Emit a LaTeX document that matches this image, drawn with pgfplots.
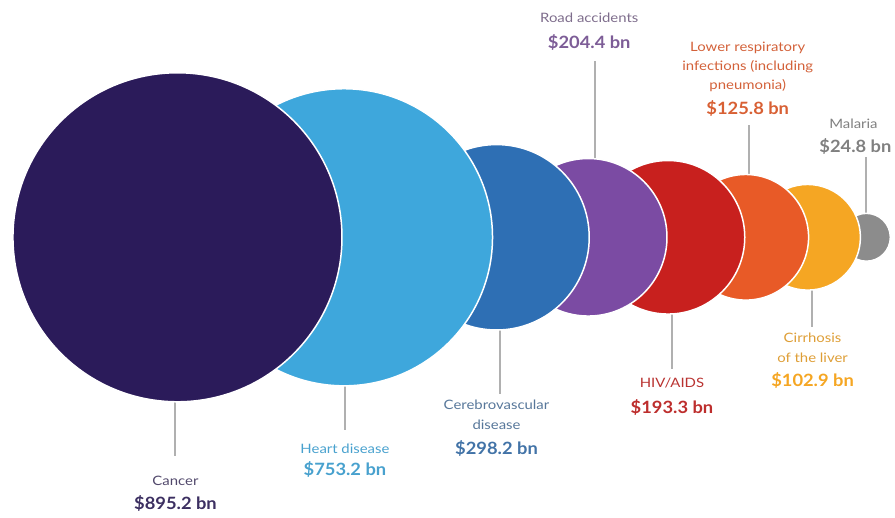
\documentclass[border=0pt]{standalone}
\usepackage{pgfplots}
\pgfplotsset{compat=1.18}
\usepackage{fontspec}
\setmainfont{Lato}
\definecolor{cCancer}{HTML}{2B1B5A}
\definecolor{cHeart}{HTML}{3EA7DC}
\definecolor{cCereb}{HTML}{2E6FB4}
\definecolor{cRoad}{HTML}{7B4BA3}
\definecolor{cHiv}{HTML}{C8201E}
\definecolor{cResp}{HTML}{E85A27}
\definecolor{cLiver}{HTML}{F5A623}
\definecolor{cMal}{HTML}{8C8C8C}
\definecolor{cLine}{HTML}{B0B0B0}
\tikzset{nm/.style={align=center, xscale=1.15, font=\fontsize{13}{20}\selectfont},
         val/.style={align=center, xscale=1.08, font=\fontsize{17}{19}\selectfont\bfseries}}
\begin{document}
\begin{tikzpicture}
\begin{axis}[x=1pt,y=1pt,xmin=0,xmax=895,ymin=0,ymax=519,
  hide axis, clip=false, scale only axis]
\path (axis cs:0,0) rectangle (axis cs:895,519);
% bubbles (image-pixel positions, y flipped), drawn smallest first
\addplot[only marks, mark=*, mark size=24pt, mark options={fill=cMal, draw=white, line width=1.5pt}] coordinates {(869,281)};
\addplot[only marks, mark=*, mark size=53pt, mark options={fill=cLiver, draw=white, line width=1.5pt}] coordinates {(810,281)};
\addplot[only marks, mark=*, mark size=63pt, mark options={fill=cResp, draw=white, line width=1.5pt}] coordinates {(748,281)};
\addplot[only marks, mark=*, mark size=77pt, mark options={fill=cHiv, draw=white, line width=1.5pt}] coordinates {(670,281)};
\addplot[only marks, mark=*, mark size=79pt, mark options={fill=cRoad, draw=white, line width=1.5pt}] coordinates {(590,281)};
\addplot[only marks, mark=*, mark size=93pt, mark options={fill=cCereb, draw=white, line width=1.5pt}] coordinates {(498,281)};
\addplot[only marks, mark=*, mark size=149pt, mark options={fill=cHeart, draw=white, line width=1.5pt}] coordinates {(345,281)};
\addplot[only marks, mark=*, mark size=165pt, mark options={fill=cCancer, draw=white, line width=1.5pt}] coordinates {(178,281)};
% leader lines
\draw[cLine, line width=2pt] (axis cs:176,117) -- (axis cs:176,62);
\draw[cLine, line width=2pt] (axis cs:346,133) -- (axis cs:346,88);
\draw[cLine, line width=2pt] (axis cs:501,188) -- (axis cs:501,124);
\draw[cLine, line width=2pt] (axis cs:597,361) -- (axis cs:597,458);
\draw[cLine, line width=2pt] (axis cs:674,205) -- (axis cs:674,149);
\draw[cLine, line width=2pt] (axis cs:751,344) -- (axis cs:751,394);
\draw[cLine, line width=2pt] (axis cs:814,228) -- (axis cs:814,191);
\draw[cLine, line width=2pt] (axis cs:869,305) -- (axis cs:869,362);
% labels
\node[nm, text=cCancer!55!gray] at (axis cs:176,37) {Cancer};
\node[val, text=cCancer!80!gray] at (axis cs:176,14) {\$895.2 bn};
\node[nm, text=cHeart!85!gray] at (axis cs:346,69) {Heart disease};
\node[val, text=cHeart!85!gray] at (axis cs:346,48) {\$753.2 bn};
\node[nm, text=cCereb!50!gray] at (axis cs:498,103) {Cerebrovascular\\disease};
\node[val, text=cCereb!75!gray] at (axis cs:498,69) {\$298.2 bn};
\node[nm, text=cRoad!35!gray] at (axis cs:591,501) {Road accidents};
\node[val, text=cRoad!65!gray] at (axis cs:591,476) {\$204.4 bn};
\node[nm, text=cHiv!80!gray] at (axis cs:674,135) {HIV/AIDS};
\node[val, text=cHiv!85!gray] at (axis cs:674,110) {\$193.3 bn};
\node[nm, text=cResp!80!gray, font=\fontsize{13}{19}\selectfont] at (axis cs:750,452) {Lower respiratory\\infections (including\\pneumonia)};
\node[val, text=cResp!85!gray] at (axis cs:750,410) {\$125.8 bn};
\node[nm, text=cLiver!80!gray] at (axis cs:815,170) {Cirrhosis\\of the liver};
\node[val, text=cLiver] at (axis cs:815,137) {\$102.9 bn};
\node[nm, text=gray] at (axis cs:856,395) {Malaria};
\node[val, text=gray] at (axis cs:858,372) {\$24.8 bn};
\end{axis}
\end{tikzpicture}
\end{document}
